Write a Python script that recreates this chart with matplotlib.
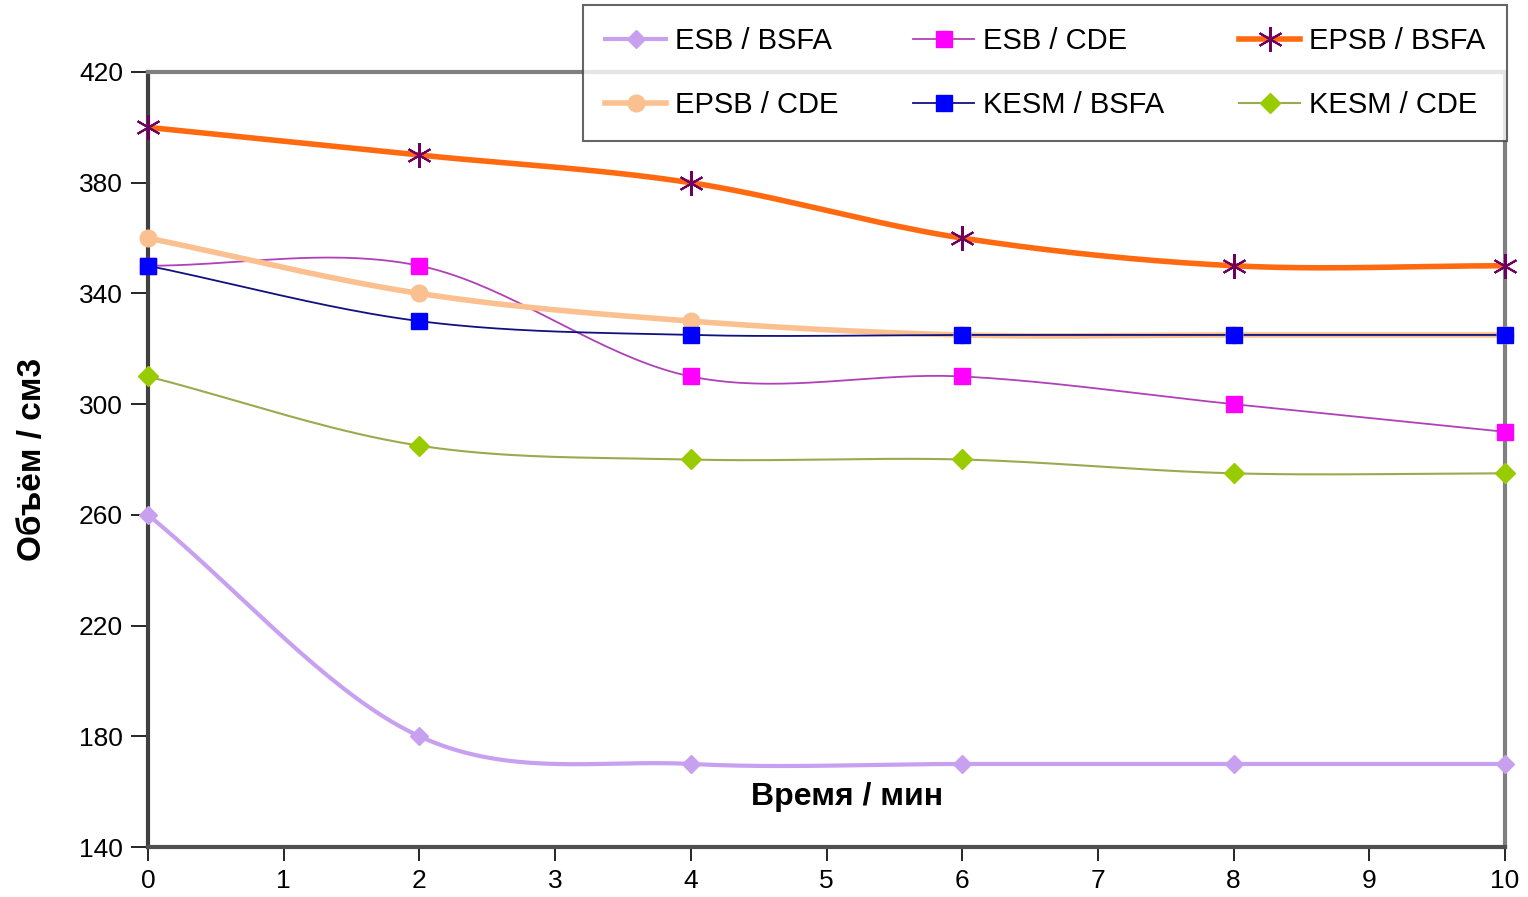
import matplotlib
matplotlib.use("Agg")
import matplotlib.pyplot as plt
from matplotlib.lines import Line2D
import numpy as np

plt.rcParams['font.family'] = ['Liberation Sans', 'DejaVu Sans']

# данные
time = [0, 2, 4, 6, 8, 10]
esb_bsfa = [260, 180, 170, 170, 170, 170]
esb_cde = [350, 350, 310, 310, 300, 290]
epsb_bsfa = [400, 390, 380, 360, 350, 350]
epsb_cde = [360, 340, 330, 325, 325, 325]
kesm_bsfa = [350, 330, 325, 325, 325, 325]
kesm_cde = [310, 285, 280, 280, 275, 275]

y_ticks = [140, 180, 220, 260, 300, 340, 380, 420]
x_ticks = list(range(0, 11))


def smooth(xs, ys, n=40):
    # сглаживание как в Excel (Catmull-Rom)
    xs = np.asarray(xs, float)
    ys = np.asarray(ys, float)
    px = np.concatenate([[2 * xs[0] - xs[1]], xs, [2 * xs[-1] - xs[-2]]])
    py = np.concatenate([[2 * ys[0] - ys[1]], ys, [2 * ys[-1] - ys[-2]]])
    t = np.linspace(0, 1, n)
    outx, outy = [], []
    for i in range(1, len(px) - 2):
        for p, out in ((px, outx), (py, outy)):
            p0, p1, p2, p3 = p[i - 1], p[i], p[i + 1], p[i + 2]
            seg = 0.5 * ((2 * p1) + (-p0 + p2) * t
                         + (2 * p0 - 5 * p1 + 4 * p2 - p3) * t ** 2
                         + (-p0 + 3 * p1 - 3 * p2 + p3) * t ** 3)
            out.extend(seg)
    return np.array(outx), np.array(outy)


series = [
    ("ESB / BSFA", esb_bsfa, dict(color="#C8A0F0", lw=3), dict(marker="D", ms=9, mfc="#C8A0F0", mec="#C8A0F0")),
    ("ESB / CDE", esb_cde, dict(color="#B040B8", lw=1.3), dict(marker="s", ms=11, mfc="#FF00FF", mec="#FF00FF")),
    ("EPSB / BSFA", epsb_bsfa, dict(color="#FF6A10", lw=4), dict(marker=(6, 2, 0), ms=18, mfc="#700060", mec="#700060", mew=1.5)),
    ("EPSB / CDE", epsb_cde, dict(color="#FAC090", lw=4), dict(marker="o", ms=12, mfc="#FAC090", mec="#FAC090")),
    ("KESM / BSFA", kesm_bsfa, dict(color="#101080", lw=1.3), dict(marker="s", ms=11, mfc="#0000FF", mec="#0000FF")),
    ("KESM / CDE", kesm_cde, dict(color="#9AAA50", lw=1.5), dict(marker="D", ms=10, mfc="#99CC00", mec="#99CC00")),
]

fig = plt.figure(figsize=(15.28, 8.97), dpi=100)
ax = fig.add_axes([148 / 1528, 50 / 897, (1505 - 148) / 1528, (847 - 72) / 897])

handles = {}
for name, vals, lstyle, mstyle in series:
    sx, sy = smooth(time, vals)
    ax.plot(sx, sy, zorder=2, solid_capstyle="round", **lstyle)
    ax.plot(time, vals, linestyle="none", zorder=3, clip_on=False, **mstyle)
    handles[name] = Line2D([], [], **lstyle, **mstyle)

ax.set_xlim(0, 10)
ax.set_ylim(140, 420)
ax.set_xticks(x_ticks)
ax.set_yticks(y_ticks)
ax.tick_params(axis="x", direction="out", length=10, width=1.2, pad=6, labelsize=19, colors="black")
ax.tick_params(axis="y", direction="out", length=12, width=1.2, pad=6, labelsize=19, colors="black")
for s in ax.spines.values():
    s.set_color("#808080")
    s.set_linewidth(3)
ax.spines["left"].set_color("#404040")
ax.spines["bottom"].set_color("#505050")

ax.set_ylabel("Объём / см3", fontsize=24, fontweight="bold", labelpad=22)
ax.text(5.15, 158, "Время / мин", fontsize=23, fontweight="bold", ha="center", va="center")

order = ["ESB / BSFA", "EPSB / CDE", "ESB / CDE", "KESM / BSFA", "EPSB / BSFA", "KESM / CDE"]
leg = fig.legend([handles[k] for k in order], order, ncol=3, loc="center",
                 bbox_to_anchor=(583 / 1528, 1 - 138 / 897, (1507 - 583) / 1528, 130 / 897),
                 mode="expand", fontsize=21, frameon=True, fancybox=False,
                 handlelength=2.1, handletextpad=0.3, borderpad=0.75, labelspacing=1.25,
                 columnspacing=1.0, borderaxespad=0)
leg.get_frame().set_edgecolor("#404040")
leg.get_frame().set_linewidth(1.5)

fig.savefig("out.png", dpi=100)
